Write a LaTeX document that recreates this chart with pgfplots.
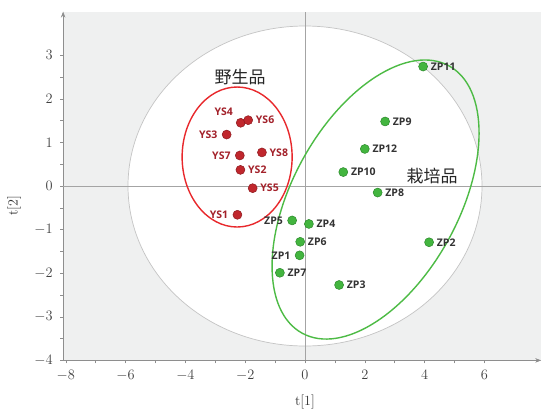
\documentclass[border=0pt]{standalone}
\usepackage{pgfplots}
\pgfplotsset{compat=1.18}
\usepackage{fontspec}
\usetikzlibrary{arrows.meta}
\newfontfamily\lblfont{Open Sans}
\newfontfamily\cjk{Noto Sans CJK SC}
\definecolor{bgc}{HTML}{EFF0F0}
\definecolor{ellgray}{HTML}{C4C4C4}
\definecolor{axgray}{HTML}{8E8E8E}
\definecolor{redfill}{HTML}{C0272D}
\definecolor{reddraw}{HTML}{8E1A1F}
\definecolor{redtext}{HTML}{A3212A}
\definecolor{greenfill}{HTML}{43B53F}
\definecolor{greendraw}{HTML}{2B8A2B}
\definecolor{redell}{HTML}{E8282C}
\definecolor{greenell}{HTML}{4DBB45}
\definecolor{zptext}{HTML}{333333}

\pgfplotsset{
  wild/.style={only marks, mark=*, mark size=4.5pt,
    mark options={fill=redfill, draw=reddraw, line width=0.5pt},
    nodes near coords, point meta=explicit symbolic,
    every node near coord/.append style={inner sep=0pt,
      font=\lblfont\bfseries\fontsize{10.5}{12}\selectfont, text=redtext}},
  cult/.style={only marks, mark=*, mark size=4.5pt,
    mark options={fill=greenfill, draw=greendraw, line width=0.5pt},
    nodes near coords, point meta=explicit symbolic,
    every node near coord/.append style={inner sep=0pt,
      font=\lblfont\bfseries\fontsize{10.5}{12}\selectfont, text=zptext}},
  lblR/.style={every node near coord/.append style={anchor=west, xshift=7.5pt}},
  lblL/.style={every node near coord/.append style={anchor=east, xshift=-9pt}},
  lblUL/.style={every node near coord/.append style={anchor=east, xshift=-7.5pt, yshift=11.5pt}},
}

\begin{document}
\begin{tikzpicture}
\begin{axis}[
  x=29.9pt, y=43.6pt,
  anchor=origin, at={(305pt,-186pt)},
  xmin=-8.09, xmax=7.9, ymin=-4, ymax=4,
  axis lines=left,
  axis line style={axgray, line width=0.6pt, -{Stealth[length=6pt,width=4.5pt]}},
  axis background/.style={fill=bgc},
  xtick={-8,-6,...,6}, ytick={-4,-3,...,3},
  minor x tick num=1, minor y tick num=1,
  tick align=outside,
  major tick length=3pt, minor tick length=3pt,
  tick style={axgray, line width=0.5pt},
  ticklabel style={font=\fontsize{14}{16}\selectfont, text=black!75},
  xticklabel style={yshift=-3pt},
  yticklabel style={xshift=-4pt},
  xlabel={t[1]}, ylabel={t[2]},
  label style={font=\fontsize{14}{16}\selectfont, text=black!80},
  xlabel style={at={(axis cs:0,-4)}, anchor=center, yshift=-42pt},
  ylabel style={at={(axis cs:-8.09,-0.46)}, anchor=center, rotate=0, yshift=49pt},
  clip=true,
]
\draw[ellgray, line width=0.7pt, fill=white] (axis cs:0,0) ellipse [x radius=177pt, y radius=160pt];
\draw[axgray!80, line width=0.6pt] (axis cs:0,-4) -- (axis cs:0,4);
\draw[axgray!80, line width=0.6pt] (axis cs:-8.09,0) -- (axis cs:7.9,0);
\draw[redell, line width=1.4pt] (axis cs:-2.27,0.665) ellipse [x radius=55pt, y radius=70pt];
\draw[greenell, line width=1.4pt, rotate around={61.2:(axis cs:2.36,-0.31)}] (axis cs:2.36,-0.31) ellipse [x radius=152.5pt, y radius=83.2pt];

% wild (YS)
\addplot[wild, lblUL] coordinates {(-2.15,1.45) [YS4]};
\addplot[wild, lblR] coordinates {(-1.90,1.51) [YS6] (-1.44,0.77) [YS8] (-2.16,0.37) [YS2] (-1.75,-0.05) [YS5]};
\addplot[wild, lblL] coordinates {(-2.62,1.18) [YS3] (-2.18,0.70) [YS7] (-2.26,-0.66) [YS1]};

% cultivated (ZP)
\addplot[cult, lblL] coordinates {(-0.18,-1.59) [ZP1] (-0.43,-0.79) [ZP5]};
\addplot[cult, lblR] coordinates {(4.15,-1.29) [ZP2] (1.14,-2.27) [ZP3] (0.13,-0.87) [ZP4] (-0.16,-1.28) [ZP6] (-0.84,-1.99) [ZP7] (2.43,-0.15) [ZP8] (2.68,1.48) [ZP9] (1.28,0.32) [ZP10] (3.95,2.74) [ZP11] (2.00,0.85) [ZP12]};

\node[font=\cjk\fontsize{17}{20}\selectfont, text=black!85] at (axis cs:-2.17,2.5) {野生品};
\node[font=\cjk\fontsize{17}{20}\selectfont, text=black!85] at (axis cs:4.25,0.23) {栽培品};
\end{axis}
\pgfresetboundingbox
\path[use as bounding box] (0,0) rectangle (544pt,-413pt);
\end{tikzpicture}
\end{document}
